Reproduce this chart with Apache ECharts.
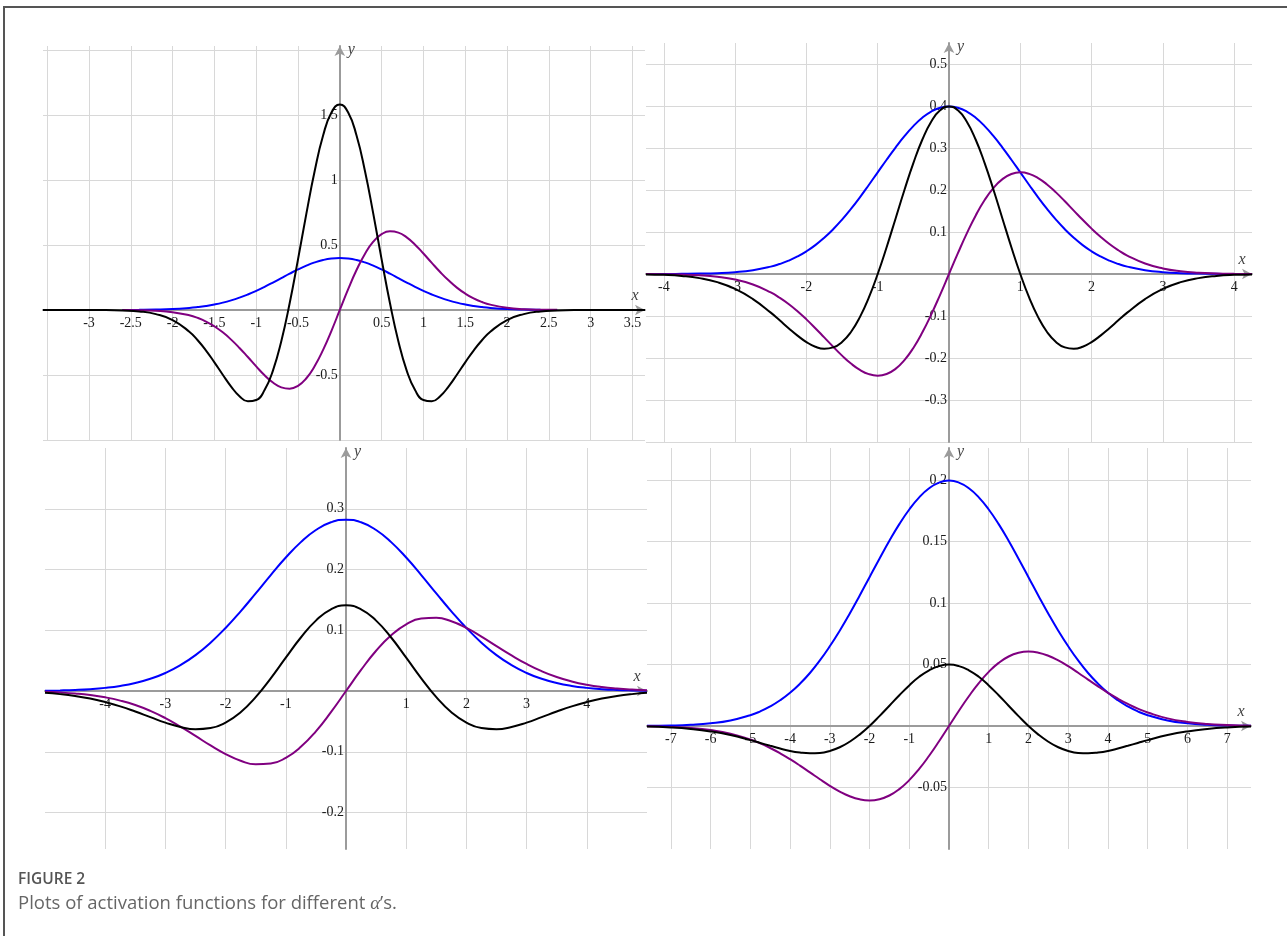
<!DOCTYPE html>
<html lang="en">

<head>
  <meta charset="UTF-8">
  <title>Figure 2</title>
  <style>
    body { margin: 0; background: #fff; overflow: hidden; }
    #main { width: 1287px; height: 936px; }
    #frame { position: absolute; left: 3px; top: 6px; width: 1290px; height: 940px;
      border-top: 2px solid #555; border-left: 2px solid #555; pointer-events: none; }
  </style>
</head>

<body>
  <div id="main"></div>
  <div id="frame"></div>
  <script src="https://cdn.jsdelivr.net/npm/echarts@6/dist/echarts.min.js"></script>
  <script>
    // panel 1 (top left)
    const p1X = [-3.55, -3.2, -2.8, -2.6, -2.4, -2.2, -2, -1.8, -1.7, -1.6, -1.5, -1.4, -1.3, -1.2, -1.1, -1, -0.9, -0.8, -0.7, -0.6, -0.5, -0.4, -0.3, -0.2, -0.1,
      0, 0.1, 0.2, 0.3, 0.4, 0.5, 0.6, 0.7, 0.8, 0.9, 1, 1.1, 1.2, 1.3, 1.4, 1.5, 1.6, 1.7, 1.8, 2, 2.2, 2.4, 2.6, 2.8, 3.2, 3.65];
    const p1Blue = [null, null, null, 0.0005, 0.0013, 0.0032, 0.0073, 0.0157, 0.0222, 0.0309, 0.0422, 0.0563, 0.0738, 0.0948, 0.1193, 0.1472, 0.1779, 0.2109, 0.2451, 0.2791, 0.3115, 0.3409, 0.3656, 0.3843, 0.396,
      0.4, 0.396, 0.3843, 0.3656, 0.3409, 0.3115, 0.2791, 0.2451, 0.2109, 0.1779, 0.1472, 0.1193, 0.0948, 0.0738, 0.0563, 0.0422, 0.0309, 0.0222, 0.0157, 0.0073, 0.0032, 0.0013, 0.0005, null, null, null];
    const p1Purple = [null, null, null, -0.001, -0.002, -0.006, -0.017, -0.041, -0.061, -0.089, -0.126, -0.172, -0.228, -0.292, -0.362, -0.434, -0.502, -0.558, -0.595, -0.605, -0.583, -0.525, -0.431, -0.307, -0.16,
      0, 0.16, 0.307, 0.431, 0.525, 0.583, 0.605, 0.595, 0.558, 0.502, 0.434, 0.362, 0.292, 0.228, 0.172, 0.126, 0.089, 0.061, 0.041, 0.017, 0.006, 0.002, 0.001, null, null, null];
    const p1Black = [0, 0, -0.001, -0.004, -0.011, -0.032, -0.078, -0.167, -0.233, -0.312, -0.403, -0.498, -0.589, -0.663, -0.702, -0.692, -0.616, -0.466, -0.24, 0.052, 0.389, 0.741, 1.071, 1.341, 1.518,
      1.58, 1.518, 1.341, 1.071, 0.741, 0.389, 0.052, -0.24, -0.466, -0.616, -0.692, -0.702, -0.663, -0.589, -0.498, -0.403, -0.312, -0.233, -0.167, -0.078, -0.032, -0.011, -0.004, -0.001, 0, 0];
    const p1XTicks = [-3.5, -3, -2.5, -2, -1.5, -1, -0.5, 0, 0.5, 1, 1.5, 2, 2.5, 3, 3.5];
    const p1XLabels = [-3, -2.5, -2, -1.5, -1, -0.5, 0.5, 1, 1.5, 2, 2.5, 3, 3.5];
    const p1YTicks = [-1, -0.5, 0, 0.5, 1, 1.5, 2];
    const p1YLabels = [-0.5, 0.5, 1, 1.5];

    // panel 2 (top right)
    const p2X = [-4.25, -4, -3.75, -3.5, -3.25, -3, -2.75, -2.5, -2.375, -2.25, -2.125, -2, -1.875, -1.75, -1.625, -1.5, -1.375, -1.25, -1.125, -1, -0.875, -0.75, -0.625, -0.5, -0.375, -0.25, -0.125,
      0, 0.125, 0.25, 0.375, 0.5, 0.625, 0.75, 0.875, 1, 1.125, 1.25, 1.375, 1.5, 1.625, 1.75, 1.875, 2, 2.125, 2.25, 2.375, 2.5, 2.75, 3, 3.25, 3.5, 3.75, 4, 4.25];
    const p2Blue = [0.0001, 0.0001, 0.0004, 0.0009, 0.002, 0.0044, 0.0091, 0.0175, 0.0238, 0.0317, 0.0417, 0.054, 0.0688, 0.0863, 0.1065, 0.1295, 0.155, 0.1826, 0.2119, 0.242, 0.2721, 0.3011, 0.3282, 0.3521, 0.3719, 0.3867, 0.3958,
      0.3989, 0.3958, 0.3867, 0.3719, 0.3521, 0.3282, 0.3011, 0.2721, 0.242, 0.2119, 0.1826, 0.155, 0.1295, 0.1065, 0.0863, 0.0688, 0.054, 0.0417, 0.0317, 0.0238, 0.0175, 0.0091, 0.0044, 0.002, 0.0009, 0.0004, 0.0001, 0.0001];
    const p2Purple = [-0.0002, -0.0005, -0.0013, -0.003, -0.0066, -0.0133, -0.025, -0.0438, -0.0565, -0.0714, -0.0887, -0.108, -0.129, -0.151, -0.1731, -0.1943, -0.2132, -0.2283, -0.2384, -0.242, -0.238, -0.2259, -0.2051, -0.176, -0.1394, -0.0967, -0.0495,
      0, 0.0495, 0.0967, 0.1394, 0.176, 0.2051, 0.2259, 0.238, 0.242, 0.2384, 0.2283, 0.2132, 0.1943, 0.1731, 0.151, 0.129, 0.108, 0.0887, 0.0714, 0.0565, 0.0438, 0.025, 0.0133, 0.0066, 0.003, 0.0013, 0.0005, 0.0002];
    const p2Black = [-0.0009, -0.002, -0.0046, -0.0098, -0.0194, -0.0355, -0.0597, -0.092, -0.1103, -0.1289, -0.1467, -0.162, -0.1731, -0.178, -0.1748, -0.1619, -0.1381, -0.1027, -0.0563, 0, 0.0638, 0.1317, 0.2, 0.2641, 0.3196, 0.3625, 0.3897,
      0.3989, 0.3897, 0.3625, 0.3196, 0.2641, 0.2, 0.1317, 0.0638, 0, -0.0563, -0.1027, -0.1381, -0.1619, -0.1748, -0.178, -0.1731, -0.162, -0.1467, -0.1289, -0.1103, -0.092, -0.0597, -0.0355, -0.0194, -0.0098, -0.0046, -0.002, -0.0009];
    const p2XTicks = [-4, -3, -2, -1, 0, 1, 2, 3, 4];
    const p2XLabels = [-4, -3, -2, -1, 1, 2, 3, 4];
    const p2YTicks = [-0.4, -0.3, -0.2, -0.1, 0, 0.1, 0.2, 0.3, 0.4, 0.5];
    const p2YLabels = [-0.3, -0.2, -0.1, 0.1, 0.2, 0.3, 0.4, 0.5];

    // panel 3 (bottom left)
    const p3X = [-5, -4.75, -4.5, -4.25, -4, -3.75, -3.5, -3.25, -3, -2.75, -2.5, -2.25, -2, -1.75, -1.5, -1.25, -1, -0.75, -0.5, -0.25,
      0, 0.25, 0.5, 0.75, 1, 1.25, 1.5, 1.75, 2, 2.25, 2.5, 2.75, 3, 3.25, 3.5, 3.75, 4, 4.25, 4.5, 4.75, 5];
    const p3Blue = [0.0005, 0.001, 0.0018, 0.0031, 0.0052, 0.0084, 0.0132, 0.0201, 0.0297, 0.0426, 0.0591, 0.0796, 0.1038, 0.1312, 0.1607, 0.1909, 0.2197, 0.2451, 0.265, 0.2777,
      0.2821, 0.2777, 0.265, 0.2451, 0.2197, 0.1909, 0.1607, 0.1312, 0.1038, 0.0796, 0.0591, 0.0426, 0.0297, 0.0201, 0.0132, 0.0084, 0.0052, 0.0031, 0.0018, 0.001, 0.0005];
    const p3Purple = [-0.0013, -0.0024, -0.0041, -0.0066, -0.0104, -0.0158, -0.0231, -0.0327, -0.0446, -0.0586, -0.0739, -0.0896, -0.1038, -0.1148, -0.1205, -0.1193, -0.1099, -0.0919, -0.0663, -0.0347,
      0, 0.0347, 0.0663, 0.0919, 0.1099, 0.1193, 0.1205, 0.1148, 0.1038, 0.0896, 0.0739, 0.0586, 0.0446, 0.0327, 0.0231, 0.0158, 0.0104, 0.0066, 0.0041, 0.0024, 0.0013];
    const p3Black = [-0.0029, -0.0051, -0.0082, -0.0124, -0.0182, -0.0253, -0.0338, -0.043, -0.052, -0.0592, -0.0628, -0.0609, -0.0519, -0.0349, -0.01, 0.0209, 0.0549, 0.0881, 0.1159, 0.1345,
      0.141, 0.1345, 0.1159, 0.0881, 0.0549, 0.0209, -0.01, -0.0349, -0.0519, -0.0609, -0.0628, -0.0592, -0.052, -0.043, -0.0338, -0.0253, -0.0182, -0.0124, -0.0082, -0.0051, -0.0029];
    const p3XTicks = [-4, -3, -2, -1, 0, 1, 2, 3, 4];
    const p3XLabels = [-4, -3, -2, -1, 1, 2, 3, 4];
    const p3YTicks = [-0.2, -0.1, 0, 0.1, 0.2, 0.3];
    const p3YLabels = [-0.2, -0.1, 0.1, 0.2, 0.3];

    // panel 4 (bottom right)
    const p4X = [-7.6, -7, -6.5, -6, -5.5, -5, -4.75, -4.5, -4.25, -4, -3.75, -3.5, -3.25, -3, -2.75, -2.5, -2.25, -2, -1.75, -1.5, -1.25, -1, -0.75, -0.5, -0.25,
      0, 0.25, 0.5, 0.75, 1, 1.25, 1.5, 1.75, 2, 2.25, 2.5, 2.75, 3, 3.25, 3.5, 3.75, 4, 4.25, 4.5, 4.75, 5, 5.5, 6, 6.5, 7, 7.6];
    const p4Blue = [0.0001, 0.0004, 0.001, 0.0022, 0.0045, 0.0088, 0.0119, 0.0159, 0.0209, 0.027, 0.0344, 0.0431, 0.0533, 0.0648, 0.0775, 0.0913, 0.1059, 0.121, 0.136, 0.1506, 0.1641, 0.176, 0.1859, 0.1933, 0.1979,
      0.1995, 0.1979, 0.1933, 0.1859, 0.176, 0.1641, 0.1506, 0.136, 0.121, 0.1059, 0.0913, 0.0775, 0.0648, 0.0533, 0.0431, 0.0344, 0.027, 0.0209, 0.0159, 0.0119, 0.0088, 0.0045, 0.0022, 0.001, 0.0004, 0.0001];
    const p4Purple = [-0.0002, -0.0008, -0.0016, -0.0033, -0.0062, -0.011, -0.0141, -0.0179, -0.0222, -0.027, -0.0322, -0.0377, -0.0433, -0.0486, -0.0533, -0.0571, -0.0596, -0.0605, -0.0595, -0.0565, -0.0513, -0.044, -0.0349, -0.0242, -0.0124,
      0, 0.0124, 0.0242, 0.0349, 0.044, 0.0513, 0.0565, 0.0595, 0.0605, 0.0596, 0.0571, 0.0533, 0.0486, 0.0433, 0.0377, 0.0322, 0.027, 0.0222, 0.0179, 0.0141, 0.011, 0.0062, 0.0033, 0.0016, 0.0008, 0.0002];
    const p4Black = [-0.0005, -0.0012, -0.0024, -0.0044, -0.0074, -0.0115, -0.0138, -0.0161, -0.0183, -0.0203, -0.0216, -0.0222, -0.0219, -0.0203, -0.0173, -0.0128, -0.007, 0, 0.008, 0.0165, 0.025, 0.033, 0.04, 0.0453, 0.0487,
      0.0499, 0.0487, 0.0453, 0.04, 0.033, 0.025, 0.0165, 0.008, 0, -0.007, -0.0128, -0.0173, -0.0203, -0.0219, -0.0222, -0.0216, -0.0203, -0.0183, -0.0161, -0.0138, -0.0115, -0.0074, -0.0044, -0.0024, -0.0012, -0.0005];
    const p4XTicks = [-7, -6, -5, -4, -3, -2, -1, 0, 1, 2, 3, 4, 5, 6, 7];
    const p4XLabels = [-7, -6, -5, -4, -3, -2, -1, 1, 2, 3, 4, 5, 6, 7];
    const p4YTicks = [-0.05, 0, 0.05, 0.1, 0.15, 0.2];
    const p4YLabels = [-0.05, 0.05, 0.1, 0.15, 0.2];

    const serif = '"Liberation Serif", "DejaVu Serif", serif';
    const sans = '"Open Sans", "Noto Sans", sans-serif';
    const axisGrey = '#9b9b9b';
    const gridGrey = '#d8d8d8';

    const panels = [
      { grid: { left: 43, top: 46, width: 602, height: 394 }, xMin: -3.55, xMax: 3.65, yMin: -1, yMax: 2.03,
        x: p1X, blue: p1Blue, purple: p1Purple, black: p1Black,
        xTicks: p1XTicks, xLabels: p1XLabels, yTicks: p1YTicks, yLabels: p1YLabels },
      { grid: { left: 646, top: 43, width: 606, height: 399 }, xMin: -4.25, xMax: 4.25, yMin: -0.4, yMax: 0.55,
        x: p2X, blue: p2Blue, purple: p2Purple, black: p2Black,
        xTicks: p2XTicks, xLabels: p2XLabels, yTicks: p2YTicks, yLabels: p2YLabels },
      { grid: { left: 45, top: 448, width: 602, height: 401 }, xMin: -5, xMax: 5, yMin: -0.26, yMax: 0.4,
        x: p3X, blue: p3Blue, purple: p3Purple, black: p3Black,
        xTicks: p3XTicks, xLabels: p3XLabels, yTicks: p3YTicks, yLabels: p3YLabels },
      { grid: { left: 647, top: 448, width: 604, height: 401 }, xMin: -7.6, xMax: 7.6, yMin: -0.1, yMax: 0.226,
        x: p4X, blue: p4Blue, purple: p4Purple, black: p4Black,
        xTicks: p4XTicks, xLabels: p4XLabels, yTicks: p4YTicks, yLabels: p4YLabels }
    ];

    const myChart = echarts.init(document.getElementById('main'));

    const option = {
      animation: false,
      backgroundColor: '#fff',
      title: [{
        text: 'FIGURE 2',
        left: 18,
        top: 872,
        padding: 0,
        textStyle: { fontFamily: sans, fontSize: 15.5, fontWeight: 600, color: '#555' }
      }, {
        text: 'Plots of activation functions for different {a|α}’s.',
        left: 18,
        top: 894,
        padding: 0,
        textStyle: {
          fontFamily: sans, fontSize: 18.5, fontWeight: 'normal', color: '#666',
          rich: { a: { fontFamily: serif, fontStyle: 'italic', fontSize: 19, color: '#666' } }
        }
      }],
      grid: [],
      xAxis: [],
      yAxis: [],
      series: []
    };

    panels.forEach((p, i) => {
      // put the axes through the origin (labels follow the line)
      const xAxisShift = -p.grid.height * (0 - p.yMin) / (p.yMax - p.yMin);
      const yAxisShift = -p.grid.width * (0 - p.xMin) / (p.xMax - p.xMin);
      option.grid.push(p.grid);
      option.xAxis.push({
        type: 'value',
        gridIndex: i,
        position: 'bottom',
        offset: xAxisShift,
        min: p.xMin,
        max: p.xMax,
        name: 'x',
        nameLocation: 'end',
        nameGap: -10,
        nameTextStyle: { fontFamily: serif, fontStyle: 'italic', fontSize: 16, color: '#444',
          align: 'center', verticalAlign: 'bottom', padding: [0, 0, 6, 0] },
        axisLine: { onZero: false, symbol: ['none', 'arrow'], symbolSize: [8, 10],
          lineStyle: { color: axisGrey, width: 2 } },
        axisTick: { show: false, customValues: p.xTicks },
        axisLabel: { customValues: p.xLabels, margin: 6, fontFamily: serif, fontSize: 14, color: '#1a1a1a' },
        splitLine: { show: true, lineStyle: { color: gridGrey, width: 1 } }
      });
      option.yAxis.push({
        type: 'value',
        gridIndex: i,
        position: 'left',
        offset: yAxisShift,
        min: p.yMin,
        max: p.yMax,
        name: 'y',
        nameLocation: 'end',
        nameGap: -4,
        nameTextStyle: { fontFamily: serif, fontStyle: 'italic', fontSize: 16, color: '#444',
          align: 'left', verticalAlign: 'middle', padding: [0, 0, 0, 8] },
        axisLine: { onZero: false, symbol: ['none', 'arrow'], symbolSize: [8, 10],
          lineStyle: { color: axisGrey, width: 2 } },
        axisTick: { show: false, customValues: p.yTicks },
        axisLabel: { customValues: p.yLabels, margin: 2, fontFamily: serif, fontSize: 14, color: '#1a1a1a' },
        splitLine: { show: true, lineStyle: { color: gridGrey, width: 1 } }
      });
      [['blue', '#0000ff', p.blue], ['purple', '#800080', p.purple], ['black', '#000000', p.black]].forEach(([name, color, ys]) => {
        option.series.push({
          name: name,
          type: 'line',
          xAxisIndex: i,
          yAxisIndex: i,
          smooth: true,
          showSymbol: false,
          connectNulls: false,
          lineStyle: { color: color, width: 2 },
          itemStyle: { color: color },
          data: p.x.map((x, k) => [x, ys[k]])
        });
      });
    });

    myChart.setOption(option);
  </script>
</body>

</html>
